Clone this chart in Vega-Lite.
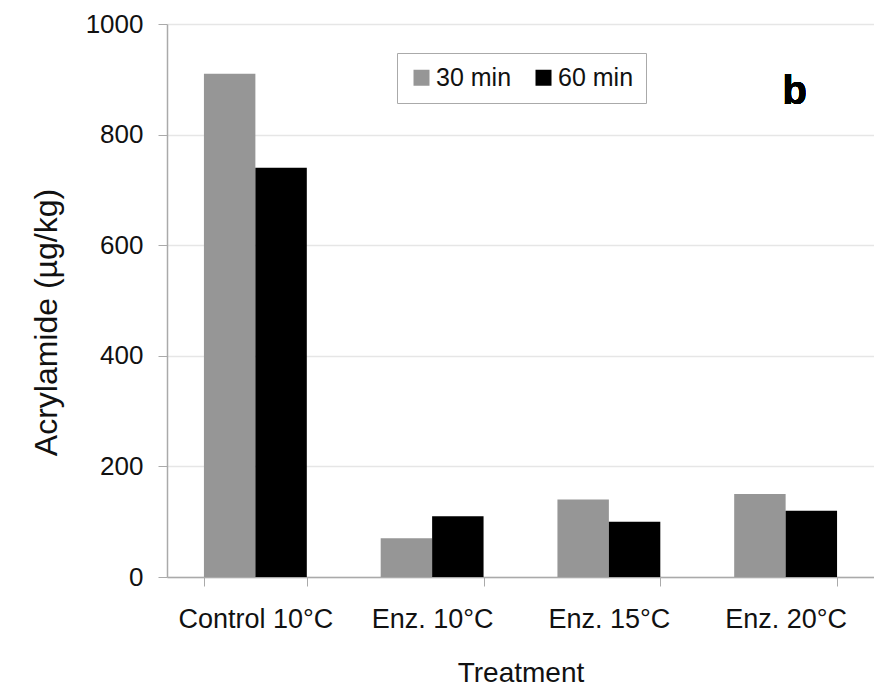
{
  "$schema": "https://vega.github.io/schema/vega-lite/v6.json",
  "autosize": {"type": "none"},
  "padding": {"left": 167, "top": 24, "right": 0, "bottom": 116},
  "width": 707,
  "height": 553,
  "background": "white",
  "config": {
    "font": "Liberation Sans",
    "view": {"stroke": null}
  },
  "data": {
    "values": [
      {"treatment": "Control 10°C", "time": "30 min", "acrylamide": 910},
      {"treatment": "Control 10°C", "time": "60 min", "acrylamide": 740},
      {"treatment": "Enz. 10°C", "time": "30 min", "acrylamide": 70},
      {"treatment": "Enz. 10°C", "time": "60 min", "acrylamide": 110},
      {"treatment": "Enz. 15°C", "time": "30 min", "acrylamide": 140},
      {"treatment": "Enz. 15°C", "time": "60 min", "acrylamide": 100},
      {"treatment": "Enz. 20°C", "time": "30 min", "acrylamide": 150},
      {"treatment": "Enz. 20°C", "time": "60 min", "acrylamide": 120}
    ]
  },
  "layer": [
    {
      "mark": {"type": "bar"},
      "encoding": {
        "x": {
          "field": "treatment",
          "type": "nominal",
          "sort": null,
          "scale": {"paddingInner": 0.418, "paddingOuter": 0.209},
          "axis": {
            "title": "Treatment",
            "titleFontSize": 28,
            "titleFontWeight": "normal",
            "titleColor": "#111",
            "titlePadding": 27,
            "labelAngle": 0,
            "labelFontSize": 27,
            "labelColor": "#111",
            "labelPadding": 20,
            "tickBand": "extent",
            "tickSize": 9,
            "tickColor": "#aaaaaa",
            "domainColor": "#aaaaaa",
            "domainWidth": 1.5,
            "grid": false
          }
        },
        "xOffset": {"field": "time", "type": "nominal", "scale": {"paddingInner": 0, "paddingOuter": 0}},
        "y": {
          "field": "acrylamide",
          "type": "quantitative",
          "scale": {"domain": [0, 1000], "nice": false},
          "axis": {
            "title": "Acrylamide (µg/kg)",
            "titleFontSize": 32,
            "titleFontWeight": "normal",
            "titleColor": "#111",
            "titlePadding": 22,
            "titleY": 298,
            "values": [0, 200, 400, 600, 800, 1000],
            "format": "d",
            "labelFontSize": 26,
            "labelColor": "#111",
            "labelPadding": 15,
            "tickSize": 9,
            "tickColor": "#aaaaaa",
            "domainColor": "#aaaaaa",
            "domainWidth": 1.5,
            "gridColor": "#e6e6e6",
            "gridWidth": 1.5
          }
        },
        "color": {
          "field": "time",
          "type": "nominal",
          "scale": {"domain": ["30 min", "60 min"], "range": ["#969696", "#000000"]},
          "legend": {
            "title": null,
            "orient": "none",
            "legendX": 230,
            "legendY": 29,
            "direction": "horizontal",
            "columns": 2,
            "columnPadding": 19,
            "symbolType": "square",
            "symbolSize": 256,
            "symbolStrokeWidth": 0,
            "labelFontSize": 25,
            "labelColor": "#111",
            "labelOffset": 2,
            "strokeColor": "#aaaaaa",
            "padding": 12,
            "fillColor": "white"
          }
        }
      }
    },
    {
      "mark": {"type": "text", "fontSize": 40, "fontWeight": "bold", "baseline": "middle", "align": "center", "dx": 9, "color": "#000"},
      "encoding": {
        "x": {"datum": "Enz. 20°C"},
        "y": {"datum": 877},
        "text": {"value": "b"}
      }
    }
  ]
}
